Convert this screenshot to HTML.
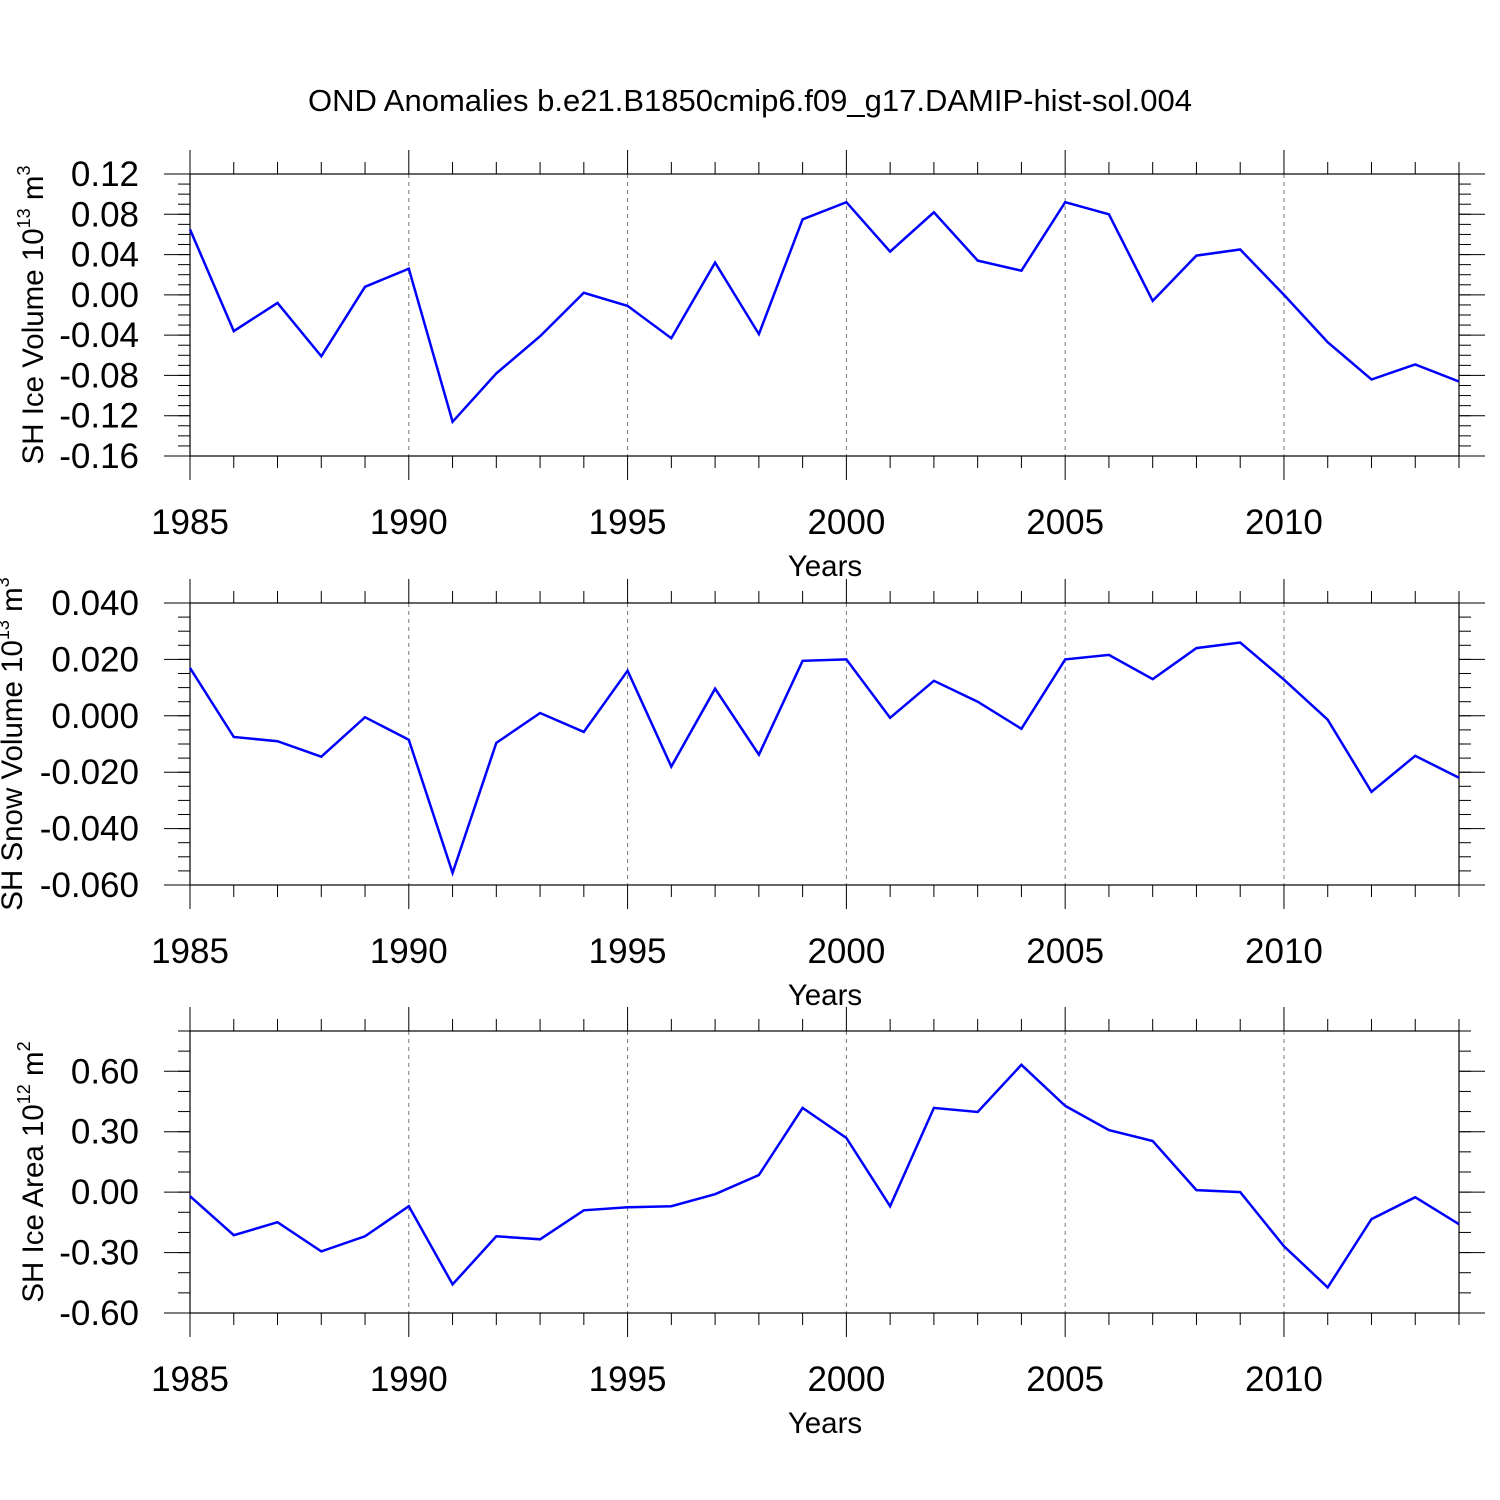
<!DOCTYPE html>
<html><head><meta charset="utf-8"><style>
html,body{margin:0;padding:0;background:#fff;}
svg{display:block;font-family:"Liberation Sans",sans-serif;}
</style></head><body>
<svg id="chart" width="1500" height="1500" viewBox="0 0 1500 1500">
<text x="750" y="111" font-size="31" text-anchor="middle">OND Anomalies b.e21.B1850cmip6.f09_g17.DAMIP-hist-sol.004</text>
</svg>
<script>
const years = [1985,1986,1987,1988,1989,1990,1991,1992,1993,1994,1995,1996,1997,1998,1999,2000,2001,2002,2003,2004,2005,2006,2007,2008,2009,2010,2011,2012,2013,2014];
const iceVolume = [0.065,-0.036,-0.008,-0.061,0.008,0.026,-0.126,-0.078,-0.041,0.002,-0.011,-0.043,0.032,-0.039,0.075,0.092,0.043,0.082,0.034,0.024,0.092,0.080,-0.006,0.039,0.045,0.0,-0.047,-0.084,-0.069,-0.086];
const snowVolume = [0.017,-0.0075,-0.009,-0.0145,-0.0005,-0.0085,-0.0557,-0.0096,0.001,-0.0057,0.016,-0.018,0.0096,-0.0138,0.0195,0.020,-0.0007,0.0124,0.005,-0.0046,0.020,0.0216,0.013,0.024,0.026,0.0128,-0.0014,-0.027,-0.0142,-0.022];
const iceArea = [-0.02,-0.214,-0.149,-0.294,-0.219,-0.07,-0.458,-0.219,-0.234,-0.09,-0.075,-0.07,-0.01,0.085,0.418,0.269,-0.07,0.418,0.398,0.632,0.428,0.308,0.254,0.01,0.0,-0.269,-0.473,-0.134,-0.025,-0.159];
const xTickLabels = ['1985','1990','1995','2000','2005','2010'];
const yTicks1 = ['0.12','0.08','0.04','0.00','-0.04','-0.08','-0.12','-0.16'];
const yTicks2 = ['0.040','0.020','0.000','-0.020','-0.040','-0.060'];
const yTicks3 = ['0.60','0.30','0.00','-0.30','-0.60'];

const NS='http://www.w3.org/2000/svg';
const svg=document.getElementById('chart');
function mk(tag,attrs,parent){const e=document.createElementNS(NS,tag);for(const k in attrs)e.setAttribute(k,attrs[k]);(parent||svg).appendChild(e);return e;}

const X0=190,X1=1459;
function xs(v){return X0+(v-1985)/(2014-1985)*(X1-X0);}

const panels=[
 {name:'ice-volume',top:174,bot:456,min:-0.16,max:0.12,data:iceVolume,ticks:yTicks1,minor:0.01,tx:43,title:['SH Ice Volume 10','13',' m','3']},
 {name:'snow-volume',top:603,bot:885,min:-0.06,max:0.04,data:snowVolume,ticks:yTicks2,minor:0.005,tx:22,title:['SH Snow Volume 10','13',' m','3']},
 {name:'ice-area',top:1031,bot:1313,min:-0.6,max:0.8,data:iceArea,ticks:yTicks3,minor:0.1,tx:43,title:['SH Ice Area 10','12',' m','2']}
];

panels.forEach(p=>{
 const g=mk('g',{});
 
 
 const ys=v=>p.bot-(v-p.min)/(p.max-p.min)*(p.bot-p.top);
 for(let y=1990;y<=2010;y+=5){
  const l=mk('line',{x1:xs(y),x2:xs(y),y1:p.top,y2:p.bot,stroke:'#777','stroke-width':1,'stroke-dasharray':'4,4'},g);
  
  
 }
 years.forEach(y=>{
  const major=(y%5===0);const len=major?24:12;
  mk('line',{x1:xs(y),x2:xs(y),y1:p.bot,y2:p.bot+len,stroke:'#000','stroke-width':1},g);
  mk('line',{x1:xs(y),x2:xs(y),y1:p.top,y2:p.top-len,stroke:'#000','stroke-width':1},g);
 });
 xTickLabels.forEach(s=>{
  const t=mk('text',{x:xs(+s),y:p.bot+78,'font-size':35,'text-anchor':'middle'},g);
  t.textContent=s;
  
  
 });
 const xt=mk('text',{x:825,y:p.bot+120,'font-size':29.5,'text-anchor':'middle'},g);
 xt.textContent='Years';
 
 
 const n=Math.round((p.max-p.min)/p.minor);
 for(let i=0;i<=n;i++){
  const v=p.min+i*p.minor;const yy=ys(v);
  mk('line',{x1:X0-12,x2:X0,y1:yy,y2:yy,stroke:'#000','stroke-width':1},g);
  mk('line',{x1:X1,x2:X1+12,y1:yy,y2:yy,stroke:'#000','stroke-width':1},g);
 }
 p.ticks.forEach(s=>{
  const yy=ys(parseFloat(s));
  mk('line',{x1:X0-26,x2:X0,y1:yy,y2:yy,stroke:'#000','stroke-width':1},g);
  mk('line',{x1:X1,x2:X1+26,y1:yy,y2:yy,stroke:'#000','stroke-width':1},g);
  const t=mk('text',{x:139,y:yy+12,'font-size':35,'text-anchor':'end'},g);
  t.textContent=s;
  
  
 });
 const f=mk('rect',{x:X0,y:p.top,width:X1-X0,height:p.bot-p.top,fill:'none',stroke:'#000','stroke-width':1.2},g);
 
 
 const pts=p.data.map((v,i)=>xs(years[i]).toFixed(1)+','+ys(v).toFixed(1)).join(' ');
 const pl=mk('polyline',{points:pts,fill:'none',stroke:'#0000ff','stroke-width':2.5,'stroke-linejoin':'miter'},g);
 
 
 const cy=(p.top+p.bot)/2;
 const yt=mk('text',{x:0,y:0,'font-size':29.5,'text-anchor':'middle',transform:'translate('+p.tx+','+cy+') rotate(-90)'},g);
 
 
 const a=mk('tspan',{},yt);a.textContent=p.title[0];
 const b=mk('tspan',{dy:-13,'font-size':18},yt);b.textContent=p.title[1];
 const c=mk('tspan',{dy:13},yt);c.textContent=p.title[2];
 const d=mk('tspan',{dy:-13,'font-size':18},yt);d.textContent=p.title[3];
});
</script>
</body></html>
